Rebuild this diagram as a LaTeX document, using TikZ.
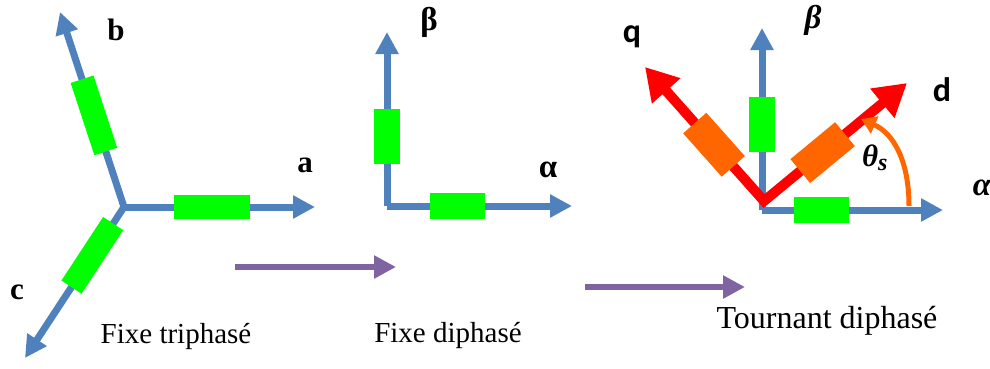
\documentclass[tikz,border=0pt]{standalone}
\usepackage{fontspec}
\setmainfont{Liberation Serif}
\newfontfamily\calib{Carlito}
\usetikzlibrary{arrows.meta,calc}
\definecolor{axblue}{HTML}{4F81BD}
\definecolor{boxgreen}{HTML}{00FF00}
\definecolor{axred}{HTML}{FF0000}
\definecolor{boxorange}{HTML}{FF6600}
\definecolor{flowpurple}{HTML}{8064A2}
\begin{document}
\begin{tikzpicture}[x=1pt,y=-1pt,
  blueax/.style={draw=axblue,line width=7pt,-{Triangle[length=22pt,width=22pt]}},
  redax/.style={draw=axred,line width=10pt,line join=miter,{Triangle[length=32pt,width=36pt]}-{Triangle[length=32pt,width=36pt]}},
  flow/.style={draw=flowpurple,line width=6pt,-{Triangle[length=22pt,width=22pt]}},
  gbigbox/.style={fill=boxgreen,inner sep=0pt,minimum width=76pt,minimum height=24pt,sloped},
  gbox/.style={fill=boxgreen,inner sep=0pt,minimum width=55pt,minimum height=26pt,sloped},
  obox/.style={fill=boxorange,inner sep=0pt,minimum width=58pt,minimum height=31pt,sloped},
  thetaarc/.style={draw=boxorange,line width=5pt,-{Triangle[length=15pt,width=18pt]}},
  lbl/.style={font=\fontsize{31}{34}\selectfont\bfseries,inner sep=0pt},
  glbl/.style={font=\fontsize{33}{36}\selectfont\bfseries,inner sep=0pt},
  slbl/.style={font=\fontsize{34}{38}\selectfont\calib\bfseries,inner sep=0pt},
  mlbl/.style={font=\fontsize{33}{36}\selectfont\bfseries\itshape,inner sep=0pt},
  captext/.style={inner sep=0pt,anchor=base}
]
\useasboundingbox (0,0) rectangle (990,368);

% ---------- Panel 1: fixe triphase ----------
\coordinate (o1) at (124,207);
\coordinate (a1) at (315,207);
\coordinate (b1) at (60,12);
\coordinate (c1) at (25,358);
\draw[blueax] (o1) -- (a1);
\draw[blueax] (o1) -- (b1);
\draw[blueax] (o1) -- (c1);
\path (o1) -- (a1) node[gbigbox,pos=0.46] (ga1) {};
\path (o1) -- (b1) node[gbigbox,pos=0.47] (gb1) {};
\path (o1) -- (c1) node[gbigbox,pos=0.32] (gc1) {};
\node[lbl] (la) at (305,165) {a};
\node[lbl] (lb) at (116,30) {b};
\node[lbl] (lc) at (17,292) {c};
\node[captext,font=\fontsize{29}{32}\selectfont] (t1) at (176,343) {Fixe triphasé};

% ---------- Panel 2: fixe diphase ----------
\coordinate (o2) at (387,206);
\coordinate (al2) at (572,206);
\coordinate (be2) at (387,32);
\draw[blueax] (o2) -- (al2);
\draw[blueax] (o2) -- (be2);
\path (o2) -- (al2) node[gbox,pos=0.38] (gal2) {};
\path (o2) -- (be2) node[gbox,pos=0.40] (gbe2) {};
\node[glbl] (lbe2) at (429,22) {β};
\node[glbl] (lal2) at (548,170) {α};
\node[captext,font=\fontsize{29}{32}\selectfont] (t2) at (448,342) {Fixe diphasé};

% ---------- Flow arrows ----------
\coordinate (f1s) at (235,267);
\coordinate (f1e) at (396,267);
\coordinate (f2s) at (585,287);
\coordinate (f2e) at (745,287);
\draw[flow] (f1s) -- (f1e);
\draw[flow] (f2s) -- (f2e);

% ---------- Panel 3: tournant diphase ----------
\coordinate (o3) at (762,210);
\coordinate (al3) at (943,210);
\coordinate (be3) at (762,28);
\draw[blueax] (o3) -- (al3);
\draw[blueax] (o3) -- (be3);
\path (o3) -- (al3) node[gbox,pos=0.33] (gal3) {};
\path (o3) -- (be3) node[gbox,pos=0.47] (gbe3) {};
\coordinate (r3) at (764,201);
\coordinate (q3) at (645,67);
\coordinate (d3) at (907,83);
\draw[redax] (q3) -- (r3) -- (d3);
\path (r3) -- (q3) node[obox,pos=0.42] (oq3) {};
\path (r3) -- (d3) node[obox,pos=0.41] (od3) {};
\coordinate (th0) at (909,206);
\coordinate (th1) at (861,119);
\draw[thetaarc] (th0) .. controls (909,160) and (893,133) .. (th1);
\node[slbl] (lq) at (632,37) {q};
\node[slbl] (ld) at (942,90) {d};
\node[mlbl] (lbe3) at (813,20) {β};
\node[mlbl] (lal3) at (982,188) {α};
\node[mlbl,font=\fontsize{31}{34}\selectfont\bfseries\itshape] (lth) at (875,158) {θ\textsubscript{\fontsize{24}{26}\selectfont s}};
\node[captext,font=\fontsize{32}{36}\selectfont] (t3) at (827,328) {Tournant diphasé};
\end{tikzpicture}
\end{document}
